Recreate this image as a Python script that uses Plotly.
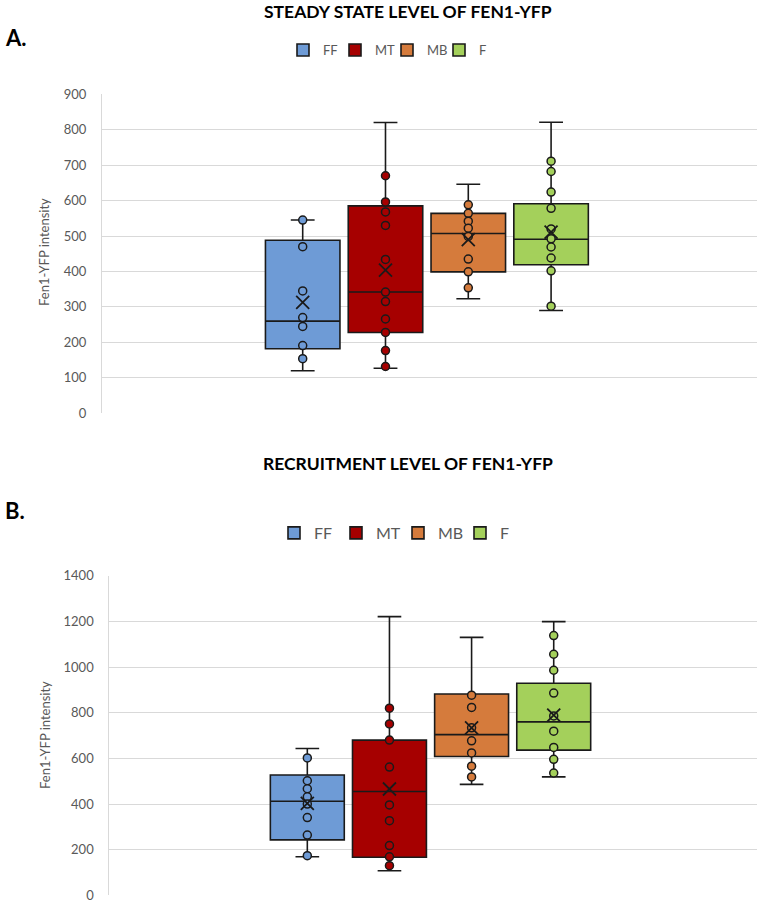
import plotly.graph_objects as go

groups = ["FF", "MT", "MB", "F"]
colors = ["#6E9BD6", "#A60000", "#D57B3C", "#A4D05B"]

# Panel A: steady state level
ss_q1 = [182, 228, 399, 419]
ss_median = [260, 342, 507, 491]
ss_q3 = [488, 585, 564, 591]
ss_low = [120, 127, 323, 290]
ss_high = [545, 820, 646, 821]
ss_mean = [313, 404, 490, 511]
ss_points = [
    [545, 470, 345, 270, 245, 191, 154],
    [670, 596, 568, 530, 434, 342, 315, 266, 228, 177, 132],
    [588, 564, 542, 522, 499, 435, 399, 354],
    [711, 682, 624, 578, 520, 492, 469, 438, 402, 302],
]

# Panel B: recruitment level
rc_q1 = [243, 167, 608, 636]
rc_median = [412, 455, 704, 760]
rc_q3 = [527, 680, 882, 929]
rc_low = [169, 108, 486, 519]
rc_high = [643, 1221, 1130, 1199]
rc_mean = [403, 466, 734, 789]
rc_points = [
    [602, 502, 467, 432, 400, 341, 264, 174],
    [820, 751, 680, 562, 396, 327, 218, 169, 130],
    [877, 823, 734, 677, 624, 566, 519],
    [1138, 1056, 986, 886, 786, 719, 648, 596, 536],
]

FONT = "Lato, 'Open Sans', sans-serif"
TICK_COL = "#595959"
GRID_COL = "#D9D9D9"

fig = go.Figure()


def add_panel(q1, med, q3, low, high, mean, pts, xa, ya, legend):
    for i, g in enumerate(groups):
        fig.add_trace(go.Box(
            x=[i], q1=[q1[i]], median=[med[i]], q3=[q3[i]],
            lowerfence=[low[i]], upperfence=[high[i]],
            name=g, width=0.9, whiskerwidth=0.32,
            fillcolor=colors[i], line=dict(color="#1A1A1A", width=1.6),
            boxpoints=False, xaxis=xa, yaxis=ya, legend=legend,
            showlegend=True, hoverinfo="skip",
        ))
        fig.add_trace(go.Scatter(
            x=[i] * len(pts[i]), y=pts[i], mode="markers",
            marker=dict(symbol="circle", size=8, color=colors[i],
                        line=dict(color="#1A1A1A", width=1.5)),
            xaxis=xa, yaxis=ya, showlegend=False, hoverinfo="skip",
        ))
        fig.add_trace(go.Scatter(
            x=[i], y=[mean[i]], mode="markers",
            marker=dict(symbol="x-thin-open", size=13, color="#1A1A1A",
                        line=dict(color="#1A1A1A", width=1.8)),
            xaxis=xa, yaxis=ya, showlegend=False, hoverinfo="skip",
        ))


add_panel(ss_q1, ss_median, ss_q3, ss_low, ss_high, ss_mean, ss_points,
          "x", "y", "legend")
add_panel(rc_q1, rc_median, rc_q3, rc_low, rc_high, rc_mean, rc_points,
          "x2", "y2", "legend2")

W, H = 759, 902


def px(xp):
    return xp / W


def py(yp):
    return 1 - yp / H


yaxis_common = dict(showgrid=True, gridcolor=GRID_COL, gridwidth=1.3,
                    zeroline=False, showline=True, linecolor=GRID_COL,
                    linewidth=1, ticks="", ticklabelstandoff=12, automargin=False,
                    ticklabeloverflow="allow",
                    tickfont=dict(family=FONT, size=13, color=TICK_COL))
xaxis_common = dict(showgrid=False, zeroline=False, showticklabels=False,
                    showline=False, ticks="", automargin=False)

fig.update_layout(
    width=W, height=H, autosize=False,
    margin=dict(l=0, r=0, t=0, b=0, pad=0, autoexpand=False),
    paper_bgcolor="white", plot_bgcolor="white",
    showlegend=True,
    xaxis=dict(domain=[px(102), px(757)], range=[-2.424, 5.487], **xaxis_common),
    yaxis=dict(domain=[py(413.3), py(94.2)], range=[0, 900], dtick=100, **yaxis_common),
    xaxis2=dict(domain=[px(109.3), px(757)], range=[-2.411, 5.475], anchor="y2", **xaxis_common),
    yaxis2=dict(domain=[py(895.4), py(575.7)], range=[0, 1400], dtick=200, anchor="x2", **yaxis_common),
    legend=dict(orientation="h", x=px(283), y=py(50), xanchor="left", yanchor="middle",
                font=dict(family=FONT, size=13, color=TICK_COL),
                entrywidth=7, entrywidthmode="pixels", itemclick=False),
    legend2=dict(orientation="h", x=px(274), y=py(533), xanchor="left", yanchor="middle",
                 font=dict(family=FONT, size=16, color=TICK_COL),
                 entrywidth=17, entrywidthmode="pixels", itemclick=False),
    annotations=[
        dict(text="<b>STEADY STATE LEVEL OF FEN1-YFP</b>", x=px(408), y=py(11),
             xref="paper", yref="paper", showarrow=False, xanchor="center", yanchor="middle",
             font=dict(family=FONT, size=17.5, color="black")),
        dict(text="<b>A.</b>", x=px(3), y=py(37), xref="paper", yref="paper",
             showarrow=False, xanchor="left", yanchor="middle",
             font=dict(family=FONT, size=22, color="black")),
        dict(text="Fen1-YFP intensity", x=px(44), y=py(252), xref="paper", yref="paper",
             showarrow=False, textangle=-90, xanchor="center", yanchor="middle",
             font=dict(family=FONT, size=13, color=TICK_COL)),
        dict(text="<b>RECRUITMENT LEVEL OF FEN1-YFP</b>", x=px(408), y=py(463),
             xref="paper", yref="paper", showarrow=False, xanchor="center", yanchor="middle",
             font=dict(family=FONT, size=17.5, color="black")),
        dict(text="<b>B.</b>", x=px(3), y=py(510), xref="paper", yref="paper",
             showarrow=False, xanchor="left", yanchor="middle",
             font=dict(family=FONT, size=22, color="black")),
        dict(text="Fen1-YFP intensity", x=px(45), y=py(735), xref="paper", yref="paper",
             showarrow=False, textangle=-90, xanchor="center", yanchor="middle",
             font=dict(family=FONT, size=13, color=TICK_COL)),
    ],
)

fig.write_html(
    "out.html",
    config={"displayModeBar": False},
    post_script=(
        "document.documentElement.style.margin='0';"
        "document.documentElement.style.overflow='hidden';"
        "document.body.style.margin='0';document.body.style.padding='0';"
        "document.body.style.overflow='hidden';"
        "var d=document.getElementById('{plot_id}');"
        "d.style.position='fixed';d.style.top='0px';d.style.left='0px';"
    ),
)
